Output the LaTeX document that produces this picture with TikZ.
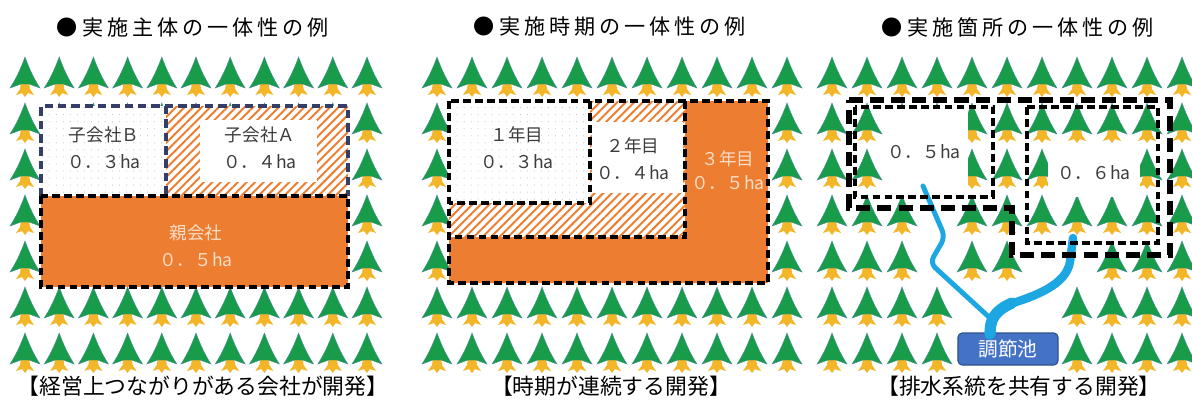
\documentclass[tikz,border=0pt]{standalone}
\usepackage{fontspec}
\setmainfont{Noto Sans CJK JP}
\usetikzlibrary{patterns.meta}

\definecolor{treegreen}{RGB}{24,156,74}
\definecolor{treeedge}{RGB}{70,140,150}
\definecolor{trunk}{RGB}{242,182,40}
\definecolor{parcel}{RGB}{237,125,49}
\definecolor{navyline}{RGB}{52,62,102}
\definecolor{labelgrey}{RGB}{60,60,60}
\definecolor{paletext}{RGB}{252,222,200}
\definecolor{water}{RGB}{28,166,226}
\definecolor{pondblue}{RGB}{68,114,196}
\definecolor{pondedge}{RGB}{47,82,143}

\tikzset{
  tree/.pic={
    \fill[trunk] (-4,25) -- (4,25) -- (5,32) -- (9,38) -- (3,36) -- (0,40)
      -- (-3,36) -- (-9,38) -- (-5,32) -- cycle;
    \filldraw[fill=treegreen, draw=treeedge, line width=0.3pt]
      (0,0) .. controls (-4,11) and (-9,22) .. (-15,31) -- (-4,27) -- (4,27)
      -- (15,31) .. controls (9,22) and (4,11) .. (0,0) -- cycle;
  },
  heading/.style={font=\fontsize{15}{18}\selectfont\addfontfeature{LetterSpace=19}},
  caption/.style={font=\fontsize{15.5}{18}\selectfont},
  area/.style={font=\fontsize{12.5}{19}\selectfont, text=labelgrey, align=center},
  arealight/.style={area, text=paletext},
  dots/.style={pattern={Dots[distance=5pt,radius=0.35pt]}, pattern color=black!30},
  hatch/.style={pattern={Lines[angle=45,distance=4.3pt,line width=1.4pt]}, pattern color=parcel},
  blackdash/.style={draw=black, line width=2.5pt, dash pattern=on 5.5pt off 3pt},
  navydash/.style={draw=navyline, line width=2.4pt, dash pattern=on 6pt off 3.5pt},
  widedash/.style={draw=black, line width=3.6pt, dash pattern=on 10pt off 5pt},
  river/.style={draw=water, line cap=round, line join=round},
  pond/.style={fill=pondblue, draw=pondedge, line width=0.8pt, rounded corners=3pt,
    text=white, font=\fontsize{14}{16}\selectfont, minimum width=2.5cm, minimum height=0.8cm}
}

\begin{document}
\begin{tikzpicture}[x=0.025cm, y=-0.025cm]
\useasboundingbox (0,0) rectangle (1192,403);

% headings and captions
\node[heading] (head1) at (193,27) {●実施主体の一体性の例};
\node[heading] (head2) at (610,27) {●実施時期の一体性の例};
\node[heading] (head3) at (1018,27) {●実施箇所の一体性の例};
\node[caption] (cap1) at (203,386) {【経営上つながりがある会社が開発】};
\node[caption] (cap2) at (611,386) {【時期が連続する開発】};
\node[caption] (cap3) at (1019,386) {【排水系統を共有する開発】};

% left: companies
\foreach \j in {0,...,6}
  \foreach \i in {0,...,10}
    \pic at (25+34.2*\i, 57+46*\j) {tree};
\fill[white] (41,106) rectangle (348,196);
\fill[dots] (41,106) rectangle (166,196);
\fill[hatch] (166,106) rectangle (348,196);
\fill[white] (200,120) rectangle (317,182);
\draw[navydash] (41,196) -- (41,106) -- (348,106) -- (348,196);
\draw[navydash] (166,106) -- (166,196);
\filldraw[fill=parcel, blackdash] (41,196) rectangle (348,287);
\node[area] (subB) at (104,148) {子会社Ｂ\\０．３ha};
\node[area] (subA) at (260,148) {子会社Ａ\\０．４ha};
\node[arealight] (parent) at (196,246) {親会社\\０．５ha};

% middle: years
\foreach \j in {0,...,6}
  \foreach \i in {0,...,10}
    \pic at (437+35*\i, 57+46*\j) {tree};
\fill[white] (449,101) rectangle (685,237);
\fill[hatch] (449,101) rectangle (685,237);
\fill[white] (449,101) rectangle (590,203);
\fill[dots] (449,101) rectangle (590,203);
\fill[white] (592,122) rectangle (683,193);
\fill[parcel] (685,101) -- (768,101) -- (768,283) -- (449,283) -- (449,237)
  -- (685,237) -- cycle;
\draw[blackdash] (449,101) rectangle (768,283);
\draw[blackdash] (590,101) -- (590,203) -- (449,203);
\draw[blackdash] (685,101) -- (685,237) -- (449,237);
\node[area] (year1) at (517,148) {１年目\\０．３ha};
\node[area] (year2) at (633,159) {２年目\\０．４ha};
\node[arealight, font=\fontsize{12.5}{17}\selectfont] (year3) at (728,170) {３年目\\０．５ha};

% right: shared drainage
\foreach \j in {0,1,2}
  \foreach \i in {0,...,10}
    \pic at (832+35*\i, 57+46*\j) {tree};
\foreach \i in {0,1,2,4,5,6,7,8,9,10}
  \pic at (832+35*\i, 195) {tree};
\foreach \i in {0,1,2,4,5,8,9,10}
  \pic at (832+35*\i, 241) {tree};
\foreach \j in {287,333}
  \foreach \i in {0,1,2,3,7,8,9,10}
    \pic at (832+35*\i, \j) {tree};
\fill[white] (884,108) rectangle (968,195);
\fill[white] (1048,146) rectangle (1140,197);

\node[pond] (pond) at (1008,349) {調節池};
\coordinate (drain1) at (923,186);
\coordinate (drain2) at (1073,238);
\coordinate (inlet) at (990,334);
\draw[river, line width=3.5pt, rounded corners=5pt]
  (drain1) -- (945,237) -- (930,263) -- (990,318);
\draw[river, line width=6pt]
  (drain2) -- (1070,262) .. controls (1066,285) and (1035,296) .. (1010,304);
\draw[river, line width=8pt]
  (1012,303) .. controls (994,311) and (990,320) .. (inlet);

\draw[widedash] (849,100) -- (1170,100) -- (1170,255) -- (1012,255) -- (1012,208)
  -- (849,208) -- cycle;
\draw[blackdash] (855,107) rectangle (993,197);
\draw[blackdash] (1027,107) rectangle (1158,243);
\node[area] (site1) at (924,152) {０．５ha};
\node[area] (site2) at (1094,173) {０．６ha};
\end{tikzpicture}
\end{document}
